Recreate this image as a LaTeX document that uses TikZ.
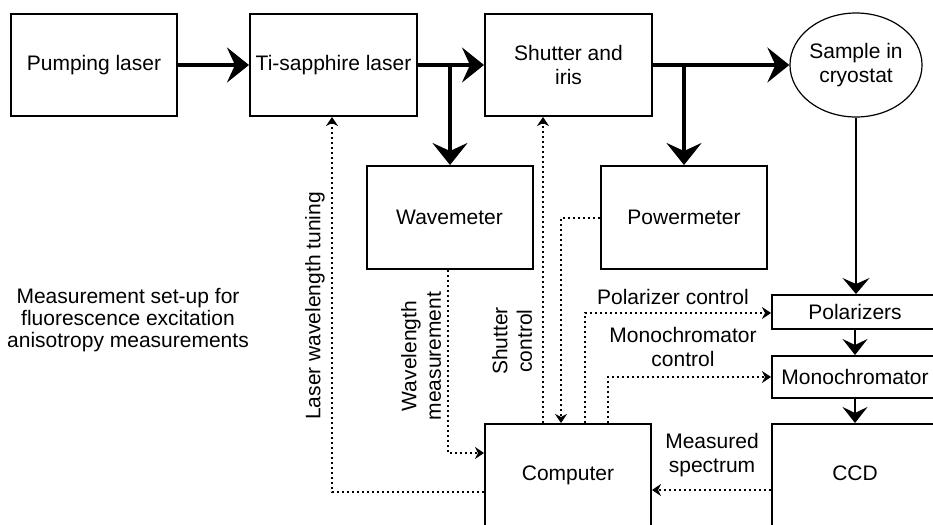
\documentclass[tikz,border=0pt]{standalone}
\usepackage{fontspec}
\setmainfont{Liberation Sans}
\usetikzlibrary{arrows.meta,shapes.geometric}
\begin{document}
\begin{tikzpicture}[x=1pt,y=-1pt,
  font=\fontsize{21}{24.5}\selectfont,
  box/.style={draw, line width=2pt, minimum width=166pt, minimum height=102pt, inner sep=0pt, align=center},
  beam/.style={line width=3.5pt, -{Stealth[length=22pt,width=35pt,inset=8pt]}},
  midbeam/.style={line width=2.5pt, -{Stealth[length=16pt,width=25pt,inset=6pt]}},
  thinbeam/.style={line width=1.3pt, -{Stealth[length=16pt,width=27pt,inset=6pt]}},
  ctrl/.style={line width=2.4pt, dash pattern=on 2.4pt off 2.6pt, -{Stealth[length=9pt,width=12pt,inset=3pt]}},
  lbl/.style={align=center, inner sep=0pt}]
\useasboundingbox (0,0) rectangle (933,524);
\clip (0,0) rectangle (933,524);

% main boxes
\node[box] (pump) at (94,65) {Pumping laser};
\node[box, minimum width=167pt] (ti) at (333.5,65) {Ti-sapphire laser};
\node[box, minimum width=167pt] (shut) at (568.5,65) {Shutter and\\iris};
\node[draw, line width=1.2pt, ellipse, minimum width=109pt, minimum height=104pt, inner sep=0pt, align=center] (samp) at (856,65) {Sample in\\cryostat};
\node[box, minimum height=103pt] (wave) at (449.5,217.5) {Wavemeter};
\node[box, minimum height=103pt] (power) at (684,217.5) {Powermeter};
\node[box, minimum height=34pt] (pol) at (855,312) {Polarizers};
\node[box, minimum height=42pt] (mono) at (855,377) {Monochromator};
\node[box, minimum height=104pt] (ccd) at (855,476) {\raisebox{6pt}{CCD}};
\node[box, minimum height=104pt] (comp) at (568,476) {\raisebox{6pt}{Computer}};

% beam path
\draw[beam] (pump) -- (ti);
\draw[beam] (ti) -- (shut);
\draw[beam] (shut) -- (samp);
\coordinate (b1) at (450,65);
\draw[beam] (b1) -- (b1 |- wave.north);
\coordinate (b2) at (684,65);
\draw[beam] (b2) -- (b2 |- power.north);
\draw[thinbeam] (samp.south) -- (samp.south |- pol.north);
\draw[midbeam] (pol) -- (mono);
\draw[midbeam] (mono) -- (ccd);

% control / data lines
\coordinate (t1) at (332,492);
\draw[ctrl] (comp.west |- t1) -- (t1) -- (t1 |- ti.south);
\coordinate (w1) at (448,453);
\draw[ctrl] (w1 |- wave.south) -- (w1) -- (w1 -| comp.west);
\coordinate (s1) at (543,300);
\draw[ctrl] (s1 |- comp.north) -- (s1 |- shut.south);
\coordinate (p1) at (561,218);
\draw[ctrl] (power.west |- p1) -- (p1) -- (p1 |- comp.north);
\coordinate (c1) at (585,313);
\draw[ctrl] (c1 |- comp.north) -- (c1) -- (c1 -| pol.west);
\coordinate (c2) at (608,377);
\draw[ctrl] (c2 |- comp.north) -- (c2) -- (c2 -| mono.west);
\coordinate (m1) at (700,490);
\draw[ctrl] (m1 -| ccd.west) -- (m1 -| comp.east);

% labels
\node[lbl, rotate=90] (lwt) at (315,306) {Laser wavelength tuning};
\node[lbl, rotate=90] (wm) at (421,356) {Wavelength\\measurement};
\node[lbl, rotate=90] (sc) at (512,341) {Shutter\\control};
\node[lbl] (pc) at (673,297) {Polarizer control};
\node[lbl] (mc) at (683,347) {Monochromator\\control};
\node[lbl] (ms) at (712,455) {Measured\\spectrum};
\node[lbl, font=\fontsize{21}{22}\selectfont] (title) at (128,320) {Measurement set-up for\\fluorescence excitation\\anisotropy measurements};
\end{tikzpicture}
\end{document}
